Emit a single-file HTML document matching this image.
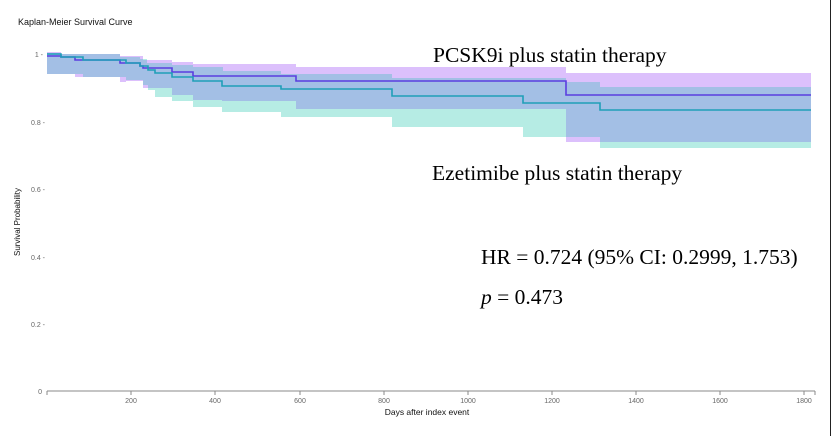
<!DOCTYPE html>
<html><head><meta charset="utf-8"><style>
html,body{margin:0;padding:0;background:#fff;width:832px;height:436px;overflow:hidden}
svg{display:block}
.t{font-family:"Liberation Sans",sans-serif;fill:#666;font-size:7px}
.s{font-family:"Liberation Serif",serif;fill:#000}
</style></head><body>
<svg id="c" width="832" height="436" xmlns="http://www.w3.org/2000/svg">
<rect x="0" y="0" width="832" height="436" fill="#fff"/>
<line x1="830.5" y1="0" x2="830.5" y2="436" stroke="#222" stroke-width="1"/>
<text x="18" y="25" font-family="Liberation Sans,sans-serif" font-size="9" fill="#111">Kaplan-Meier Survival Curve</text>
<g id="bands"></g>
<g id="lines"></g>
<line x1="47" y1="391" x2="815" y2="391" stroke="#888" stroke-width="1"/>
<g stroke="#888" stroke-width="1">
<line x1="47" y1="391" x2="47" y2="395"/><line x1="131" y1="391" x2="131" y2="395"/><line x1="215" y1="391" x2="215" y2="395"/><line x1="300" y1="391" x2="300" y2="395"/><line x1="384" y1="391" x2="384" y2="395"/><line x1="468" y1="391" x2="468" y2="395"/><line x1="552" y1="391" x2="552" y2="395"/><line x1="636" y1="391" x2="636" y2="395"/><line x1="720" y1="391" x2="720" y2="395"/><line x1="804" y1="391" x2="804" y2="395"/><line x1="815" y1="391" x2="815" y2="395"/>
</g>
<g class="t" text-anchor="middle">
<text x="131" y="403">200</text><text x="215" y="403">400</text><text x="300" y="403">600</text><text x="384" y="403">800</text><text x="468" y="403">1000</text><text x="552" y="403">1200</text><text x="636" y="403">1400</text><text x="720" y="403">1600</text><text x="804" y="403">1800</text>
</g>
<g class="t" text-anchor="end">
<text x="43" y="57">1 -</text><text x="45" y="125">0.8 -</text><text x="45" y="192">0.6 -</text><text x="45" y="260">0.4 -</text><text x="45" y="327">0.2 -</text><text x="42" y="394">0</text>
</g>
<text x="427" y="415" text-anchor="middle" font-family="Liberation Sans,sans-serif" font-size="8.5" fill="#111">Days after index event</text>
<text transform="translate(20,222) rotate(-90)" text-anchor="middle" font-family="Liberation Sans,sans-serif" font-size="8" fill="#111">Survival Probability</text>
<text class="s" x="433" y="62" font-size="21.5">PCSK9i plus statin therapy</text>
<text class="s" x="432" y="180" font-size="21.5">Ezetimibe plus statin therapy</text>
<text class="s" x="481" y="264" font-size="21.5">HR = 0.724 (95% CI: 0.2999, 1.753)</text>
<text class="s" x="481" y="304" font-size="21.5"><tspan font-style="italic">p</tspan> = 0.473</text>
</svg>
<script>
var XE=811;
function val(a,x){var v=a[0][1];for(var i=0;i<a.length;i++){if(a[i][0]<=x)v=a[i][1];}return v;}
function brk(arrs){var s={};arrs.forEach(function(a){a.forEach(function(p){s[p[0]]=1;});});s[XE]=1;return Object.keys(s).map(Number).sort(function(a,b){return a-b;});}
function stepPath(a){var d="M"+a[0][0]+","+a[0][1];for(var i=1;i<a.length;i++){d+=" H"+a[i][0]+" V"+a[i][1];}d+=" H"+XE;return d;}
function band(up,lo,color){var xs=brk([up,lo]);var r="";for(var i=0;i<xs.length-1;i++){var x=xs[i],x2=xs[i+1];var u=val(up,x),l=val(lo,x);if(l>u)r+='<rect x="'+x+'" y="'+u+'" width="'+(x2-x)+'" height="'+(l-u)+'" fill="'+color+'"/>';}return r;}
var tU=[[47,53],[61,54],[120,57],[140,59],[147,63],[172,65],[193,67],[223,71],[281,74],[392,78],[566,82],[600,87]];
var tL=[[47,74],[83,77],[126,80],[143,85],[148,90],[155,97],[172,101],[193,107],[222,112],[281,117],[392,127],[523,137],[600,148]];
var pU=[[47,52],[61,54],[120,56],[143,60],[172,62],[193,64],[296,67],[566,73]];
var pL=[[47,74],[75,77],[120,82],[126,81],[143,88],[172,95],[193,100],[222,101],[296,109],[566,142]];
var all=brk([tU,tL,pU,pL]);
var h=band(tU,tL,"#b6ece4")+band(pU,pL,"#dcc0fc");
for(var i=0;i<all.length-1;i++){var x=all[i],x2=all[i+1];var u=Math.max(val(tU,x),val(pU,x)),l=Math.min(val(tL,x),val(pL,x));if(l>u)h+='<rect x="'+x+'" y="'+u+'" width="'+(x2-x)+'" height="'+(l-u)+'" fill="#a3bfe5"/>';}
document.getElementById("bands").innerHTML=h;
var pl=[[47,56],[61,57],[75,60],[120,63],[140,66],[143,68],[172,72],[193,76],[296,81],[566,95]];
var tl=[[47,54],[61,57],[83,60],[126,63],[140,66],[148,70],[155,73],[172,77],[193,81],[222,86],[281,89],[392,96],[523,103],[600,110]];
document.getElementById("lines").innerHTML='<path d="'+stepPath(pl)+'" fill="none" stroke="#5b3fe0" stroke-width="1.6"/><path d="'+stepPath(tl)+'" fill="none" stroke="#1f9fb8" stroke-width="1.6"/>';
</script>
</body></html>
